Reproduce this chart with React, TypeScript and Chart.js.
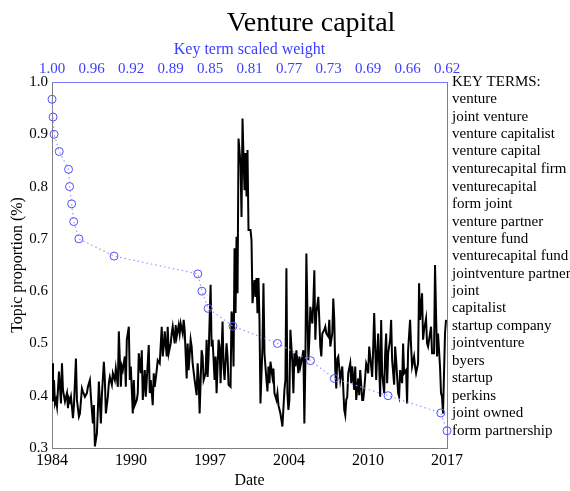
import React, { useEffect, useRef } from 'react';
import { Chart, registerables } from 'chart.js';

Chart.register(...registerables);

const FONT = '"Liberation Serif", "Times New Roman", serif';
const chartTitle = 'Venture capital';
const xTitle = 'Date';
const yTitle = 'Topic proportion (%)';
const topTitle = 'Key term scaled weight';
const keyHeader = 'KEY TERMS:';

const yearStart = 1984;
const yearEnd = 2017;
const yearTickLabels = ['1984', '1990', '1997', '2004', '2010', '2017'];

const weightMax = 1.0;
const weightMin = 0.618;
const weightTickLabels = ['1.00', '0.96', '0.92', '0.89', '0.85', '0.81', '0.77', '0.73', '0.69', '0.66', '0.62'];

const keyTerms = [
  'venture', 'joint venture', 'venture capitalist', 'venture capital', 'venturecapital firm',
  'venturecapital', 'form joint', 'venture partner', 'venture fund', 'venturecapital fund',
  'jointventure partner', 'joint', 'capitalist', 'startup company', 'jointventure',
  'byers', 'startup', 'perkins', 'joint owned', 'form partnership',
];
const termPositions = [
  0.967, 0.933, 0.900, 0.867, 0.833, 0.800, 0.767, 0.733, 0.700, 0.667,
  0.633, 0.600, 0.567, 0.533, 0.500, 0.467, 0.433, 0.400, 0.367, 0.333,
];
const termWeights = [
  1.000, 0.999, 0.998, 0.993, 0.984, 0.983, 0.981, 0.979, 0.974, 0.940,
  0.859, 0.855, 0.849, 0.825, 0.782, 0.750, 0.727, 0.675, 0.624, 0.618,
];

// months since Jan 1984
const months = [
  0, 1, 2, 3, 4, 5, 7, 8, 9, 10,
  11, 13, 15, 16, 17, 18, 19, 20, 21, 22,
  24, 25, 27, 28, 30, 31, 33, 35, 36, 38,
  39, 41, 42, 43, 45, 46, 47, 49, 50, 52,
  53, 54, 56, 57, 58, 60, 61, 63, 64, 65,
  66, 67, 69, 70, 71, 73, 74, 75, 77, 78,
  79, 81, 82, 83, 85, 86, 87, 89, 90, 91,
  93, 94, 95, 97, 98, 99, 101, 102, 103, 105,
  106, 108, 110, 111, 112, 113, 115, 116, 117, 119,
  120, 121, 123, 124, 125, 127, 128, 129, 131, 132,
  133, 135, 136, 137, 139, 140, 141, 143, 145, 146,
  147, 148, 150, 151, 152, 154, 155, 156, 157, 159,
  160, 161, 163, 164, 165, 167, 168, 169, 171, 172,
  173, 175, 176, 177, 179, 180, 181, 182, 183, 184,
  185, 186, 187, 189, 190, 191, 192, 193, 194, 195,
  196, 197, 199, 200, 201, 203, 204, 205, 206, 207,
  208, 209, 211, 212, 213, 215, 216, 217, 218, 219,
  221, 222, 223, 225, 226, 227, 229, 230, 231, 233,
  234, 235, 236, 237, 238, 239, 241, 242, 243, 244,
  245, 247, 248, 249, 251, 252, 253, 254, 255, 257,
  258, 259, 261, 262, 263, 264, 265, 267, 268, 269,
  270, 271, 273, 274, 275, 277, 278, 279, 281, 282,
  283, 284, 285, 286, 287, 289, 290, 291, 293, 294,
  295, 296, 297, 299, 300, 301, 303, 304, 305, 307,
  308, 309, 311, 312, 313, 315, 316, 317, 318, 319,
  321, 322, 323, 325, 326, 327, 329, 330, 331, 333,
  334, 335, 336, 337, 339, 340, 341, 343, 344, 345,
  347, 348, 349, 351, 352, 353, 355, 356, 357, 359,
  360, 361, 363, 364, 365, 367, 368, 369, 371, 372,
  373, 375, 376, 377, 379, 380, 381, 383, 384, 385,
  386, 387, 389, 390, 391, 392, 394, 395,
];

const proportions = [
  0.462, 0.389, 0.430, 0.385, 0.392, 0.379, 0.446, 0.417, 0.385, 0.462,
  0.411, 0.389, 0.405, 0.376, 0.395, 0.389, 0.398, 0.379, 0.357, 0.382,
  0.471, 0.392, 0.360, 0.366, 0.414, 0.408, 0.398, 0.405, 0.417, 0.430,
  0.398, 0.347, 0.382, 0.303, 0.328, 0.373, 0.427, 0.347, 0.401, 0.465,
  0.430, 0.366, 0.398, 0.424, 0.436, 0.421, 0.443, 0.430, 0.452, 0.436,
  0.417, 0.523, 0.417, 0.456, 0.449, 0.475, 0.417, 0.507, 0.532, 0.430,
  0.456, 0.366, 0.430, 0.382, 0.392, 0.405, 0.481, 0.443, 0.487, 0.392,
  0.449, 0.398, 0.430, 0.497, 0.405, 0.430, 0.382, 0.443, 0.417, 0.449,
  0.468, 0.462, 0.532, 0.475, 0.494, 0.523, 0.475, 0.532, 0.481, 0.500,
  0.519, 0.532, 0.500, 0.535, 0.513, 0.535, 0.519, 0.538, 0.519, 0.545,
  0.526, 0.433, 0.500, 0.449, 0.507, 0.494, 0.462, 0.430, 0.401, 0.462,
  0.433, 0.366, 0.487, 0.475, 0.430, 0.443, 0.507, 0.436, 0.475, 0.612,
  0.494, 0.507, 0.430, 0.475, 0.405, 0.507, 0.494, 0.424, 0.542, 0.456,
  0.430, 0.500, 0.475, 0.421, 0.417, 0.561, 0.550, 0.456, 0.682, 0.558,
  0.704, 0.596, 0.892, 0.844, 0.742, 0.930, 0.857, 0.793, 0.864, 0.781,
  0.870, 0.717, 0.717, 0.698, 0.577, 0.621, 0.589, 0.625, 0.558, 0.625,
  0.545, 0.385, 0.494, 0.615, 0.481, 0.430, 0.408, 0.456, 0.424, 0.465,
  0.436, 0.452, 0.405, 0.392, 0.405, 0.382, 0.366, 0.354, 0.341, 0.411,
  0.430, 0.644, 0.405, 0.373, 0.392, 0.526, 0.462, 0.405, 0.481, 0.456,
  0.487, 0.443, 0.475, 0.456, 0.475, 0.487, 0.347, 0.462, 0.672, 0.468,
  0.507, 0.570, 0.538, 0.577, 0.640, 0.507, 0.558, 0.589, 0.545, 0.494,
  0.475, 0.519, 0.526, 0.532, 0.519, 0.513, 0.545, 0.494, 0.519, 0.586,
  0.545, 0.449, 0.414, 0.471, 0.475, 0.430, 0.443, 0.456, 0.373, 0.363,
  0.392, 0.398, 0.443, 0.462, 0.424, 0.456, 0.411, 0.456, 0.392, 0.433,
  0.401, 0.449, 0.392, 0.392, 0.411, 0.462, 0.456, 0.443, 0.494, 0.475,
  0.436, 0.491, 0.558, 0.430, 0.478, 0.519, 0.398, 0.545, 0.443, 0.405,
  0.481, 0.519, 0.424, 0.481, 0.507, 0.545, 0.468, 0.421, 0.494, 0.468,
  0.405, 0.398, 0.449, 0.424, 0.500, 0.443, 0.449, 0.385, 0.487, 0.545,
  0.494, 0.456, 0.475, 0.456, 0.443, 0.462, 0.615, 0.545, 0.596, 0.507,
  0.526, 0.548, 0.500, 0.494, 0.519, 0.532, 0.481, 0.481, 0.650, 0.558,
  0.475, 0.519, 0.456, 0.405, 0.398, 0.366, 0.519, 0.545,
];

const GRAY = '#808080';
const BLUE_TEXT = '#3c3cff';
const BLUE_LINE = '#7a7aff';

const figTitlePlugin = {
  id: 'figTitle',
  afterDraw(chart: any) {
    const c = chart.ctx;
    c.save();
    c.font = `28px ${FONT}`;
    c.fillStyle = '#000';
    c.textAlign = 'center';
    c.textBaseline = 'alphabetic';
    c.fillText(chartTitle, (chart.chartArea.left + chart.width) / 2, 31);
    c.restore();
  },
};

export default function App() {
  const ref = useRef<HTMLCanvasElement>(null);
  useEffect(() => {
    document.body.style.margin = '0';
    const canvas = ref.current!;
    const chart = new Chart(canvas, {
      type: 'line',
      data: {
        datasets: [
          {
            label: 'weights',
            data: termWeights.map((w, i) => ({ x: w, y: termPositions[i] })),
            xAxisID: 'x2',
            yAxisID: 'y',
            borderColor: '#9a9aff',
            borderWidth: 1.2,
            borderDash: [1.5, 3],
            pointRadius: 4,
            pointHoverRadius: 4,
            pointBorderColor: '#5050ff',
            pointBackgroundColor: 'rgba(0,0,0,0)',
            pointBorderWidth: 1,
            tension: 0,
            clip: false as any,
          },
          {
            label: 'topic',
            data: months.map((m, i) => ({ x: yearStart + m / 12, y: proportions[i] })),
            xAxisID: 'x',
            yAxisID: 'y',
            borderColor: '#000',
            borderWidth: 2,
            pointRadius: 0,
            tension: 0,
          },
        ],
      },
      options: {
        animation: false,
        responsive: false,
        events: [],
        layout: { padding: { top: 36, left: 0, right: 0, bottom: 0 } },
        plugins: {
          legend: { display: false },
          tooltip: { enabled: false },
          title: { display: false },
        },
        scales: {
          x: {
            type: 'linear',
            position: 'bottom',
            min: yearStart,
            max: yearEnd,
            grid: { display: false, drawTicks: false },
            border: { display: true, color: GRAY, width: 1 },
            ticks: {
              autoSkip: false,
              maxRotation: 0,
              padding: 3,
              color: '#000',
              font: { family: FONT, size: 16 },
              callback: (_v: any, i: number) => yearTickLabels[i],
            },
            afterBuildTicks: (s: any) => {
              s.ticks = yearTickLabels.map((_, i) => ({
                value: yearStart + (i * (yearEnd - yearStart)) / (yearTickLabels.length - 1),
              }));
            },
            afterFit: (s: any) => { s.height = 43; },
            title: {
              display: true,
              text: xTitle,
              color: '#000',
              font: { family: FONT, size: 16 },
              padding: { top: 0, bottom: 1 },
            },
          },
          x2: {
            type: 'linear',
            position: 'top',
            reverse: true,
            min: weightMin,
            max: weightMax,
            grid: { display: false, drawTicks: false },
            border: { display: true, color: BLUE_LINE, width: 1 },
            ticks: {
              autoSkip: false,
              maxRotation: 0,
              padding: 4,
              color: BLUE_TEXT,
              font: { family: FONT, size: 15 },
              callback: (_v: any, i: number) => weightTickLabels[i],
            },
            afterBuildTicks: (s: any) => {
              s.ticks = weightTickLabels.map((_, i) => ({
                value: weightMax - (i * (weightMax - weightMin)) / (weightTickLabels.length - 1),
              }));
            },
            afterFit: (s: any) => { s.height = 46; },
            title: {
              display: true,
              text: topTitle,
              color: BLUE_TEXT,
              font: { family: FONT, size: 16 },
              padding: { top: 4, bottom: 0 },
            },
          },
          y: {
            type: 'linear',
            position: 'left',
            min: 0.3,
            max: 1.0,
            grid: { display: false, drawTicks: false },
            border: { display: true, color: GRAY, width: 1 },
            ticks: {
              stepSize: 0.1,
              padding: 4,
              color: '#000',
              font: { family: FONT, size: 15 },
              callback: (v: any) => Number(v).toFixed(1),
            },
            afterFit: (s: any) => { s.width = 52; },
            title: {
              display: true,
              text: yTitle,
              color: '#000',
              font: { family: FONT, size: 16 },
              padding: { top: 8, bottom: 0 },
            },
          },
          y2: {
            type: 'linear',
            position: 'right',
            min: 0.3,
            max: 1.0,
            grid: { display: false, drawTicks: false },
            border: { display: true, color: GRAY, width: 1 },
            ticks: {
              autoSkip: false,
              padding: 5,
              color: '#000',
              font: { family: FONT, size: 15 },
              callback: (_v: any, i: number) => (i === 0 ? keyHeader : keyTerms[i - 1]),
            },
            afterBuildTicks: (s: any) => {
              s.ticks = [{ value: 1.0 }, ...termPositions.map((v) => ({ value: v }))];
            },
            afterFit: (s: any) => { s.width = 123; },
          },
        },
      } as any,
      plugins: [figTitlePlugin],
    });
    return () => chart.destroy();
  }, []);
  return (
    <div style={{ width: 570, height: 491 }}>
      <canvas ref={ref} width={570} height={491} style={{ display: 'block' }} />
    </div>
  );
}
